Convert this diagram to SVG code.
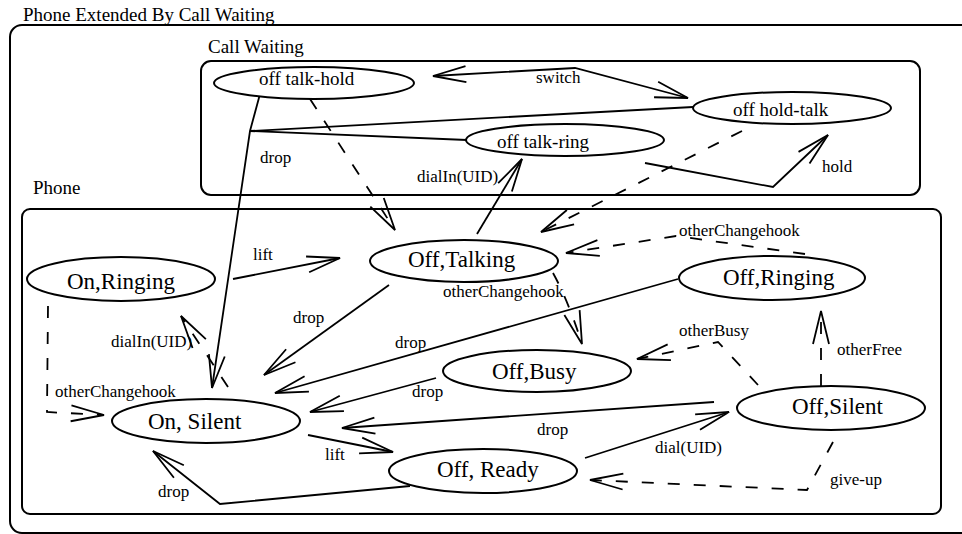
<svg xmlns="http://www.w3.org/2000/svg" width="962" height="534" viewBox="0 0 962 534">
<style>
.fr{fill:none;stroke:#000;stroke-width:2}
.nd ellipse{fill:#fff;stroke:#000;stroke-width:2}
#edges path{fill:none;stroke:#000;stroke-width:1.8}
.a{marker-end:url(#ah)}
.d{stroke-dasharray:12 14}
text{font-family:"Liberation Serif","Times New Roman",serif;fill:#000}
.n{font-size:23px}
.s{font-size:19px}
.l{font-size:17px}
</style>
<defs>
<marker id="ah" viewBox="-40 -15 45 30" refX="0" refY="0" markerWidth="45" markerHeight="30" markerUnits="userSpaceOnUse" orient="auto-start-reverse">
<path d="M-33,-8 L0,0 L-33,8" fill="none" stroke="#000" stroke-width="1.8" stroke-dasharray="none"/>
</marker>
</defs>
<rect x="0" y="0" width="962" height="534" fill="#fff"/>

<g id="frame-outer">
<rect class="fr" x="10" y="25" width="970" height="508" rx="12"/>
<text class="s" x="23" y="21">Phone Extended By Call Waiting</text>
</g>
<g id="frame-callwaiting">
<rect class="fr" x="201" y="61" width="719" height="134" rx="10"/>
<text class="s" x="208" y="53">Call Waiting</text>
</g>
<g id="frame-phone">
<rect class="fr" x="22" y="209" width="919" height="305" rx="8"/>
<text class="s" x="33" y="194">Phone</text>
</g>

<g id="edges">
<path class="a" style="marker-start:url(#ah)" d="M433,76 L575,68 L688,98"/>
<text class="l" x="536" y="83">switch</text>
<path class="a" d="M260,94 L250,131 L212,388"/>
<path d="M250,131 L693,107"/>
<path d="M250,131 L467,140"/>
<text class="l" x="260" y="163">drop</text>
<path class="a" d="M645,163 L773,187 L828,135"/>
<text class="l" x="822" y="172">hold</text>
<path class="a" d="M477,234 L522,159"/>
<text class="l" x="417" y="182">dialIn(UID)</text>
<path class="a d" d="M310,99 L395,230"/>
<path class="a d" d="M742,131 L541,232"/>
<path class="a" d="M233,279 L340,258"/>
<text class="l" x="253" y="260">lift</text>
<path class="a d" d="M805,254 L676,236 L566,253"/>
<text class="l" x="679" y="236">otherChangehook</text>
<path class="a d" d="M553,273 Q568,300 582,344"/>
<text class="l" x="443" y="297">otherChangehook</text>
<path class="a" d="M389,285 L264,375"/>
<text class="l" x="293" y="323">drop</text>
<path class="a" d="M678,279 L275,393"/>
<text class="l" x="395" y="348">drop</text>
<path class="a d" d="M228,387 L181,316"/>
<text class="l" x="111" y="347">dialIn(UID)</text>
<path class="a d" d="M48,306 L47,412 L104,415"/>
<text class="l" x="55" y="397">otherChangehook</text>
<path class="a" d="M436,378 L310,412"/>
<text class="l" x="412" y="397">drop</text>
<path class="a" d="M714,402 L342,428"/>
<text class="l" x="537" y="435">drop</text>
<path class="a" d="M308,435 L393,452"/>
<text class="l" x="325" y="460">lift</text>
<path class="a" d="M410,486 L220,504 L153,451"/>
<text class="l" x="158" y="497">drop</text>
<path class="a" d="M585,458 L729,412"/>
<text class="l" x="655" y="453">dial(UID)</text>
<path class="a d" d="M833,442 L807,490 L590,480"/>
<text class="l" x="830" y="485">give-up</text>
<path class="a d" d="M821,386 L821,311"/>
<text class="l" x="837" y="355">otherFree</text>
<path class="a d" d="M758,385 L718,342 L637,359"/>
<text class="l" x="679" y="336">otherBusy</text>
</g>

<g id="off-talk-hold" class="nd"><ellipse cx="314" cy="83" rx="100" ry="16"/><text class="s" x="259" y="85">off talk-hold</text></g>
<g id="off-hold-talk" class="nd"><ellipse cx="792" cy="108" rx="99" ry="16"/><text class="s" x="733" y="116">off hold-talk</text></g>
<g id="off-talk-ring" class="nd"><ellipse cx="565" cy="140" rx="99" ry="16"/><text class="s" x="497" y="148">off talk-ring</text></g>
<g id="on-ringing" class="nd"><ellipse cx="121" cy="279" rx="94" ry="22"/><text class="n" x="67" y="289">On,Ringing</text></g>
<g id="off-talking" class="nd"><ellipse cx="464" cy="261" rx="94" ry="21"/><text class="n" x="408" y="267">Off,Talking</text></g>
<g id="off-ringing" class="nd"><ellipse cx="772" cy="278" rx="93" ry="22"/><text class="n" x="723" y="285">Off,Ringing</text></g>
<g id="off-busy" class="nd"><ellipse cx="537" cy="371" rx="94" ry="21"/><text class="n" x="492" y="379">Off,Busy</text></g>
<g id="on-silent" class="nd"><ellipse cx="206" cy="421" rx="94" ry="22"/><text class="n" x="148" y="429">On, Silent</text></g>
<g id="off-ready" class="nd"><ellipse cx="483" cy="471" rx="94" ry="22"/><text class="n" x="437" y="477">Off, Ready</text></g>
<g id="off-silent" class="nd"><ellipse cx="831" cy="408" rx="94" ry="22"/><text class="n" x="792" y="414">Off,Silent</text></g>
</svg>
